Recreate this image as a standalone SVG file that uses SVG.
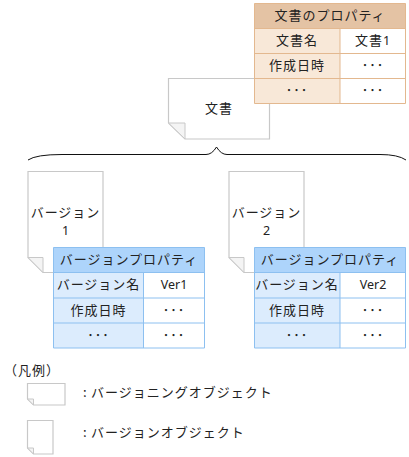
<svg xmlns="http://www.w3.org/2000/svg" width="409" height="457" viewBox="0 0 409 457">
<style>
text{font-family:"Noto Sans CJK JP","Noto Sans",sans-serif;font-size:13px;fill:#222;text-anchor:middle;letter-spacing:1px}
.l{text-anchor:start}
.m{font-family:"Noto Sans",sans-serif;font-size:12.5px;letter-spacing:0}
.doc{fill:#fff;stroke:#c8c8c8;stroke-width:1.2}
.fold{fill:#f4f4f4;stroke:#c8c8c8;stroke-width:1}
.th{fill:#e4c3a4}.tc{fill:#f8e8d8}.tl{stroke:#e3b88f;stroke-width:1;fill:none}
.bh{fill:#add4fb}.bc{fill:#dcecfd}.bl{stroke:#8dc0f0;stroke-width:1;fill:none}
.w{fill:#fff}
.brace{fill:none;stroke:#111;stroke-width:1}
</style>
<g id="connectors"><path class="brace" d="M28 160Q36 154.500 62 154.500H206Q212 154.500 216.500 147Q221 154.500 227 154.500H380Q398 154.500 406 160"/></g>
<g id="doc"><path class="doc" d="M168.500 78.500H269.500V139H185L168.500 123Z"/><path class="fold" d="M168.500 123H185V139Z"/><text x="219" y="113">文書</text></g>
<g id="doc-props">
<rect class="th" x="254.500" y="3.500" width="151" height="25"/><rect class="tc" x="254.500" y="28.500" width="85.500" height="75"/><rect class="w" x="340" y="28.500" width="65.500" height="75"/>
<path class="tl" d="M254.500 3.500H405.500V103.500H254.500ZM254.500 28.500H405.500M254.500 53.500H405.500M254.500 78.500H405.500M340 28.500V103.500"/>
<text x="330" y="20">文書のプロパティ</text><text x="297" y="45">文書名</text><text x="372.500" y="45">文書<tspan class="m">1</tspan></text><text x="297" y="70">作成日時</text><text x="373" y="70">･･･</text><text x="297" y="95">･･･</text><text x="373" y="95">･･･</text>
</g>
<g id="ver1"><path class="doc" d="M28 171.500H103V272.500H43L28 257.500Z"/><path class="fold" d="M28 257.500H43V272.500Z"/><text x="65.500" y="217">バージョン</text><text class="m" x="65.500" y="235">1</text></g>
<g id="ver1-props">
<rect class="bh" x="53.500" y="247.500" width="151" height="25"/><rect class="bc" x="53.500" y="272.500" width="90" height="75.500"/><rect class="w" x="143.500" y="272.500" width="61" height="75.500"/>
<path class="bl" d="M53.500 247.500H204.500V348H53.500ZM53.500 272.500H204.500M53.500 298H204.500M53.500 323H204.500M143.500 272.500V348"/>
<text x="129" y="264">バージョンプロパティ</text><text x="98.500" y="289">バージョン名</text><text class="m" x="174" y="289">Ver1</text><text x="98.500" y="315">作成日時</text><text x="174" y="315">･･･</text><text x="98.500" y="340">･･･</text><text x="174" y="340">･･･</text>
</g>
<g id="ver2"><path class="doc" d="M229 171.500H304V272.500H244L229 257.500Z"/><path class="fold" d="M229 257.500H244V272.500Z"/><text x="266.500" y="217">バージョン</text><text class="m" x="266.500" y="235">2</text></g>
<g id="ver2-props">
<rect class="bh" x="254.500" y="247.500" width="151" height="25"/><rect class="bc" x="254.500" y="272.500" width="85.500" height="75.500"/><rect class="w" x="340" y="272.500" width="65.500" height="75.500"/>
<path class="bl" d="M254.500 247.500H405.500V348H254.500ZM254.500 272.500H405.500M254.500 298H405.500M254.500 323H405.500M340 272.500V348"/>
<text x="330" y="264">バージョンプロパティ</text><text x="297" y="289">バージョン名</text><text class="m" x="373" y="289">Ver2</text><text x="297" y="315">作成日時</text><text x="373" y="315">･･･</text><text x="297" y="340">･･･</text><text x="373" y="340">･･･</text>
</g>
<g id="legend">
<text class="l" x="4" y="375">（凡例）</text>
<path class="doc" d="M27.500 383.500H65V405H33.500L27.500 399Z"/><path class="fold" d="M27.500 399H33.500V405Z"/>
<text class="l" x="83" y="397">:<tspan x="91">バージョニングオブジェクト</tspan></text>
<path class="doc" d="M27.500 420.500H53V454H33.500L27.500 448Z"/><path class="fold" d="M27.500 448H33.500V454Z"/>
<text class="l" x="83" y="437">:<tspan x="91">バージョンオブジェクト</tspan></text>
</g>
</svg>
